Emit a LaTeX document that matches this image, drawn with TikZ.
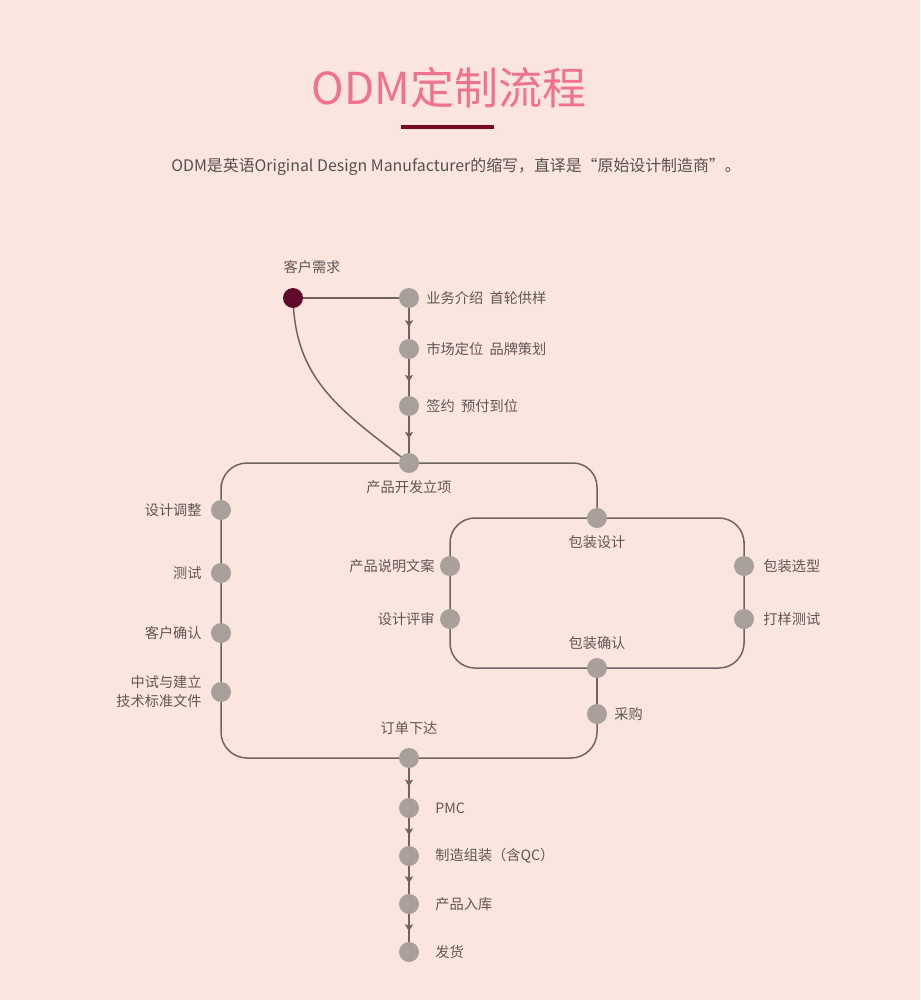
\documentclass[tikz,border=0pt]{standalone}
\usepackage{fontspec}
\setmainfont{Noto Sans CJK SC}
\usetikzlibrary{arrows.meta,decorations.markings}
\definecolor{bgc}{HTML}{FAE6DF}
\definecolor{titlec}{HTML}{F0728F}
\definecolor{barc}{HTML}{7A0A24}
\definecolor{darkdot}{HTML}{5E0B2C}
\definecolor{dotc}{HTML}{A99F9B}
\definecolor{linec}{HTML}{6F6462}
\definecolor{txtc}{HTML}{5F5654}
\definecolor{subc}{HTML}{555050}
\pgfdeclarelayer{bglayer}
\pgfdeclarelayer{lines}
\pgfsetlayers{bglayer,lines,main}
\tikzset{
  dot/.style={circle, fill=dotc, minimum size=20pt, inner sep=0pt},
  startdot/.style={circle, fill=darkdot, minimum size=20pt, inner sep=0pt},
  lbl/.style={font=\fontsize{14.2}{19}\selectfont, text=txtc, inner sep=0pt},
  conn/.style={draw=linec, line width=1.5pt},
  midarrow/.style={postaction={decorate}, decoration={markings,
      mark=at position 0.62 with {\arrow{Stealth[length=7pt,width=8pt,inset=1.5pt]}}}},
}
\begin{document}
\begin{tikzpicture}[x=1pt,y=-1pt]
\begin{pgfonlayer}{bglayer}
\fill[bgc] (0,0) rectangle (920,1000);
\end{pgfonlayer}
\useasboundingbox (0,0) rectangle (920,1000);

% title
\node[font=\fontsize{44}{50}\selectfont, text=titlec, inner sep=0pt] (title) at (449,88) {ODM定制流程};
\node[fill=barc, minimum width=93pt, minimum height=4.5pt, inner sep=0pt] (bar) at (447.5,127) {};
\node[font=\fontsize{15.9}{18}\selectfont, text=subc, inner sep=0pt] (sub) at (456,167) {ODM是英语Original Design Manufacturer的缩写，直译是“原始设计制造商”。};

% dots
\node[startdot] (kh) at (293,298) {};
\node[dot] (d1) at (409,298) {};
\node[dot] (d2) at (409,349) {};
\node[dot] (d3) at (409,406) {};
\node[dot] (kfl) at (409,463) {};
\node[dot] (tz) at (221,510) {};
\node[dot] (cs) at (221,573) {};
\node[dot] (qr) at (221,633) {};
\node[dot] (zs) at (221,692) {};
\node[dot] (bzsj) at (597,518) {};
\node[dot] (sm) at (450,566) {};
\node[dot] (ps) at (450,619) {};
\node[dot] (xx) at (744,566) {};
\node[dot] (dy) at (744,619) {};
\node[dot] (bzqr) at (597,668) {};
\node[dot] (cg) at (597,714) {};
\node[dot] (xd) at (409,758) {};
\node[dot] (pmc) at (409,808) {};
\node[dot] (zz) at (409,856) {};
\node[dot] (rk) at (409,904) {};
\node[dot] (fh) at (409,952) {};

% labels
\node[lbl] (lkh) at (312,267) {客户需求};
\node[lbl, anchor=west] (l1) at ([xshift=7pt]d1.east) {业务介绍\ \ 首轮供样};
\node[lbl, anchor=west] (l2) at ([xshift=7pt]d2.east) {市场定位\ \ 品牌策划};
\node[lbl, anchor=west] (l3) at ([xshift=7pt]d3.east) {签约\ \ 预付到位};
\node[lbl] (lkfl) at (409,487) {产品开发立项};
\node[lbl, anchor=east] (ltz) at ([xshift=-9pt]tz.west) {设计调整};
\node[lbl, anchor=east] (lcs) at ([xshift=-9pt]cs.west) {测试};
\node[lbl, anchor=east] (lqr) at ([xshift=-9pt]qr.west) {客户确认};
\node[lbl, anchor=east, align=right] (lzs) at ([xshift=-9pt]zs.west) {中试与建立\\技术标准文件};
\node[lbl] (lbzsj) at (597,542) {包装设计};
\node[lbl, anchor=east] (lsm) at ([xshift=-5pt]sm.west) {产品说明文案};
\node[lbl, anchor=east] (lps) at ([xshift=-5pt]ps.west) {设计评审};
\node[lbl, anchor=west] (lxx) at ([xshift=9pt]xx.east) {包装选型};
\node[lbl, anchor=west] (ldy) at ([xshift=9pt]dy.east) {打样测试};
\node[lbl] (lbzqr) at (597,643) {包装确认};
\node[lbl, anchor=west] (lcg) at ([xshift=7pt]cg.east) {采购};
\node[lbl] (lxd) at (409,728) {订单下达};
\node[lbl, anchor=west] (lpmc) at ([xshift=16pt]pmc.east) {PMC};
\node[lbl, anchor=west] (lzz) at ([xshift=16pt]zz.east) {制造组装（含QC）};
\node[lbl, anchor=west] (lrk) at ([xshift=16pt]rk.east) {产品入库};
\node[lbl, anchor=west] (lfh) at ([xshift=16pt]fh.east) {发货};

% connectors
\begin{pgfonlayer}{lines}
\draw[conn] (kh.center) -- (d1.center);
\draw[conn] (kh.center) .. controls (295,380) and (340,410) .. (kfl.center);
\draw[conn, midarrow] (d1) -- (d2);
\draw[conn, midarrow] (d2) -- (d3);
\draw[conn, midarrow] (d3) -- (kfl);
\draw[conn, rounded corners=24pt] (kfl.center) -| (bzsj.center);
\draw[conn, rounded corners=25pt] (bzsj.center) -| (xx.center) -- (dy.center) |- (bzqr.center) -| (ps.center) -- (sm.center) |- (bzsj.center);
\draw[conn] (bzqr) -- (cg);
\draw[conn, rounded corners=26pt] (cg.center) |- (xd.center) -| (tz.center) |- (kfl.center);
\draw[conn, midarrow] (xd) -- (pmc);
\draw[conn, midarrow] (pmc) -- (zz);
\draw[conn, midarrow] (zz) -- (rk);
\draw[conn, midarrow] (rk) -- (fh);
\end{pgfonlayer}
\end{tikzpicture}
\end{document}
